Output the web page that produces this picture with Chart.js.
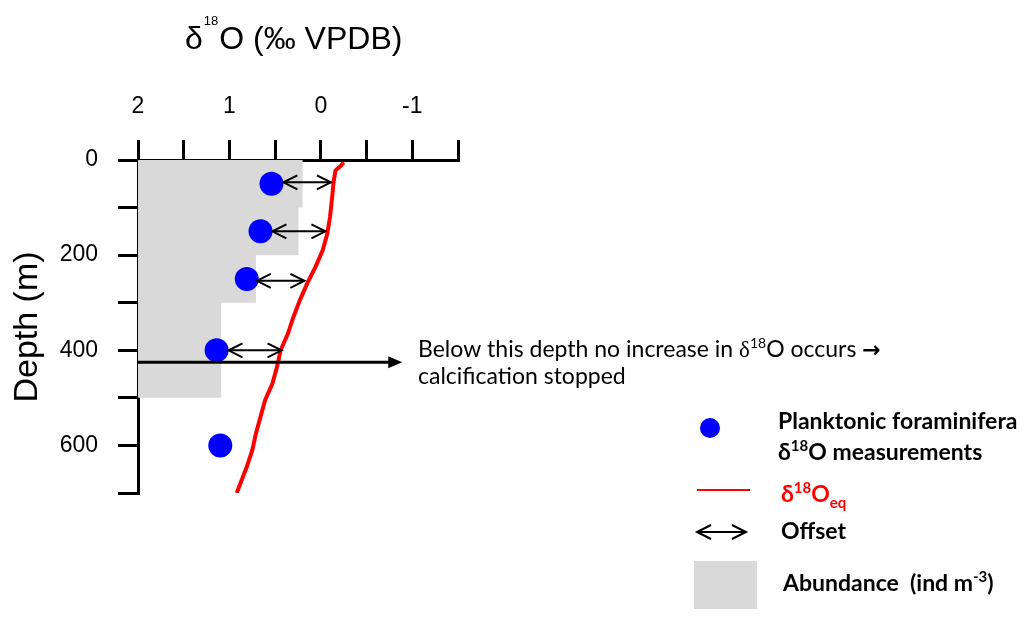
<!DOCTYPE html>
<html lang="en">
<head>
<meta charset="UTF-8">
<title>d18O depth profile</title>
<script src="https://cdn.jsdelivr.net/npm/chart.js"></script>
<style>
  body { margin: 0; background: #fff; }
  #wrap { width: 1030px; height: 621px; }
</style>
</head>
<body>
<div id="wrap"><canvas id="chart" width="1030" height="621"></canvas></div>
<script>
// planktonic foraminifera d18O (permil VPDB) against depth (m)
const foramDepth = [50, 150, 250, 400, 600];
const foramD18O = [0.54, 0.66, 0.81, 1.14, 1.10];

// equilibrium d18O profile
const eqDepth = [5, 12, 22, 45, 85, 120, 155, 190, 225, 260, 295, 330, 365, 400, 435, 470, 505, 540, 575, 610, 645, 700];
const eqD18O = [-0.25, -0.22, -0.16, -0.14, -0.12, -0.10, -0.07, -0.02, 0.06, 0.15, 0.23, 0.30, 0.36, 0.44, 0.48, 0.53, 0.61, 0.66, 0.71, 0.75, 0.81, 0.92];

// abundance steps, right edge given in axis units
const abundTop = [0, 100, 200, 300];
const abundBottom = [100, 200, 300, 500];
const abundEdge = [0.20, 0.245, 0.71, 1.09];

// offset arrows from foram point to eq curve
const offsetDepth = [47, 150, 254, 400];
const offsetFrom = [0.41, 0.53, 0.70, 1.01];
const offsetTo = [-0.11, -0.05, 0.18, 0.43];

// depth where calcification stops
const calcStopDepth = 425;
const calcArrowEnd = -0.89;

const xTickLabels = [2, 1, 0, -1];
const yTickLabels = [0, 200, 400, 600];

const SANS = '"Liberation Sans", Arial, sans-serif';
const NOTE = 'Lato, "Open Sans", sans-serif';

// build grey step polygon
let abundShape = [{ x: 2, y: abundTop[0] }];
abundEdge.forEach((e, i) => {
    abundShape.push({ x: e, y: abundTop[i] });
    abundShape.push({ x: e, y: abundBottom[i] });
});
abundShape.push({ x: 2, y: abundBottom[abundBottom.length - 1] });

// draws text pieces one after another (for super/subscripts)
function richText(ctx, parts, x, y) {
    parts.forEach(p => {
        ctx.font = p.font;
        ctx.fillStyle = p.color || '#000';
        ctx.fillText(p.t, x, y + (p.dy || 0));
        x += ctx.measureText(p.t).width + (p.gap || 0);
    });
}

function openHead(ctx, x, y, dir) {
    ctx.beginPath();
    ctx.moveTo(x - dir * 14, y - 7);
    ctx.lineTo(x, y);
    ctx.lineTo(x - dir * 14, y + 7);
    ctx.stroke();
}

function doubleArrow(ctx, x1, x2, y) {
    ctx.strokeStyle = '#000';
    ctx.lineWidth = 2;
    ctx.beginPath();
    ctx.moveTo(x1, y);
    ctx.lineTo(x2, y);
    ctx.stroke();
    openHead(ctx, x1, y, -1);
    openHead(ctx, x2, y, 1);
}

const extras = {
    id: 'extras',
    afterDatasetsDraw(chart) {
        const ctx = chart.ctx;
        const xs = chart.scales.x, ys = chart.scales.y;
        ctx.save();
        // offsets
        offsetDepth.forEach((d, i) => {
            doubleArrow(ctx, xs.getPixelForValue(offsetFrom[i]), xs.getPixelForValue(offsetTo[i]), ys.getPixelForValue(d));
        });
        // calcification arrow
        const ay = ys.getPixelForValue(calcStopDepth);
        const ax1 = xs.getPixelForValue(2), ax2 = xs.getPixelForValue(calcArrowEnd);
        ctx.strokeStyle = '#000';
        ctx.lineWidth = 3;
        ctx.beginPath();
        ctx.moveTo(ax1, ay);
        ctx.lineTo(ax2 - 10, ay);
        ctx.stroke();
        ctx.fillStyle = '#000';
        ctx.beginPath();
        ctx.moveTo(ax2, ay);
        ctx.lineTo(ax2 - 14, ay - 6);
        ctx.lineTo(ax2 - 14, ay + 6);
        ctx.closePath();
        ctx.fill();
        ctx.restore();
    },
    afterDraw(chart) {
        const ctx = chart.ctx;
        ctx.save();
        ctx.textBaseline = 'alphabetic';
        ctx.textAlign = 'left';

        // axis titles
        richText(ctx, [
            { t: 'δ', font: '32px ' + SANS, gap: 1 },
            { t: '18', font: '13px ' + SANS, dy: -24, gap: 1 },
            { t: 'O (‰ VPDB)', font: '32px ' + SANS }
        ], 185, 49);
        ctx.save();
        ctx.translate(37, 327);
        ctx.rotate(-Math.PI / 2);
        ctx.textAlign = 'center';
        ctx.font = '34px ' + SANS;
        ctx.fillStyle = '#000';
        ctx.fillText('Depth (m)', 0, 0);
        ctx.restore();

        // note next to arrow
        const n = '23px ' + NOTE;
        richText(ctx, [
            { t: 'Below this depth no increase in ', font: n },
            { t: 'δ', font: '23px "Liberation Serif", serif' },
            { t: '18', font: '14px ' + NOTE, dy: -9 },
            { t: 'O occurs ', font: n },
            { t: '→', font: 'bold 22px "DejaVu Sans", sans-serif' }
        ], 418, 357);
        richText(ctx, [{ t: 'calcification stopped', font: n }], 418, 384);

        // legend
        const b = 'bold 23px ' + NOTE, bs = 'bold 15px ' + NOTE;
        ctx.fillStyle = '#0000ff';
        ctx.beginPath();
        ctx.arc(710, 428, 10, 0, Math.PI * 2);
        ctx.fill();
        richText(ctx, [{ t: 'Planktonic foraminifera', font: b }], 778, 429);
        richText(ctx, [
            { t: 'δ', font: b },
            { t: '18', font: bs, dy: -9 },
            { t: 'O measurements', font: b }
        ], 778, 460);

        ctx.strokeStyle = '#ff0000';
        ctx.lineWidth = 2;
        ctx.beginPath();
        ctx.moveTo(697, 490);
        ctx.lineTo(750, 490);
        ctx.stroke();
        richText(ctx, [
            { t: 'δ', font: b, color: '#ff0000' },
            { t: '18', font: bs, dy: -9, color: '#ff0000' },
            { t: 'O', font: b, color: '#ff0000' },
            { t: 'eq', font: bs, dy: 6, color: '#ff0000' }
        ], 781, 502);

        doubleArrow(ctx, 697, 746, 532);
        richText(ctx, [{ t: 'Offset', font: b }], 781, 539);

        ctx.fillStyle = '#d9d9d9';
        ctx.fillRect(694, 561, 63, 48);
        richText(ctx, [
            { t: 'Abundance  (ind m', font: b },
            { t: '-3', font: bs, dy: -9 },
            { t: ')', font: b }
        ], 783, 591);
        ctx.restore();
    }
};

new Chart(document.getElementById('chart'), {
    type: 'scatter',
    data: {
        datasets: [
            {
                label: 'Planktonic foraminifera',
                data: foramDepth.map((d, i) => ({ x: foramD18O[i], y: d })),
                backgroundColor: '#0000ff',
                borderWidth: 0,
                pointRadius: 12,
                order: 1
            },
            {
                label: 'd18O eq',
                data: eqDepth.map((d, i) => ({ x: eqD18O[i], y: d })),
                showLine: true,
                borderColor: '#ff0000',
                borderWidth: 4,
                pointRadius: 0,
                fill: false,
                order: 2
            },
            {
                label: 'Abundance',
                data: abundShape,
                showLine: true,
                borderWidth: 0,
                borderColor: 'rgba(0,0,0,0)',
                backgroundColor: '#d9d9d9',
                pointRadius: 0,
                fill: 'shape',
                order: 3
            }
        ]
    },
    options: {
        responsive: false,
        animation: false,
        layout: { padding: { left: 0, top: 0, right: 572, bottom: 128 } },
        plugins: { legend: { display: false }, tooltip: { enabled: false }, title: { display: false } },
        scales: {
            x: {
                type: 'linear',
                position: 'top',
                reverse: true,
                min: -1.5,
                max: 2,
                afterFit: s => { s.height = 160; },
                ticks: {
                    stepSize: 0.5,
                    padding: 20,
                    color: '#000',
                    font: { family: SANS, size: 23 },
                    callback: v => xTickLabels.includes(v) ? String(v) : ''
                },
                grid: { drawOnChartArea: false, tickLength: 20, tickWidth: 3, lineWidth: 3, color: '#000' },
                border: { color: '#000', width: 3 }
            },
            y: {
                type: 'linear',
                reverse: true,
                min: 0,
                max: 700,
                afterFit: s => { s.width = 138; },
                ticks: {
                    stepSize: 100,
                    padding: 20,
                    color: '#000',
                    font: { family: SANS, size: 23 },
                    callback: v => yTickLabels.includes(v) ? String(v) : ''
                },
                grid: { drawOnChartArea: false, tickLength: 20, tickWidth: 3, lineWidth: 3, color: '#000' },
                border: { color: '#000', width: 3 }
            }
        }
    },
    plugins: [extras]
});
</script>
</body>
</html>
